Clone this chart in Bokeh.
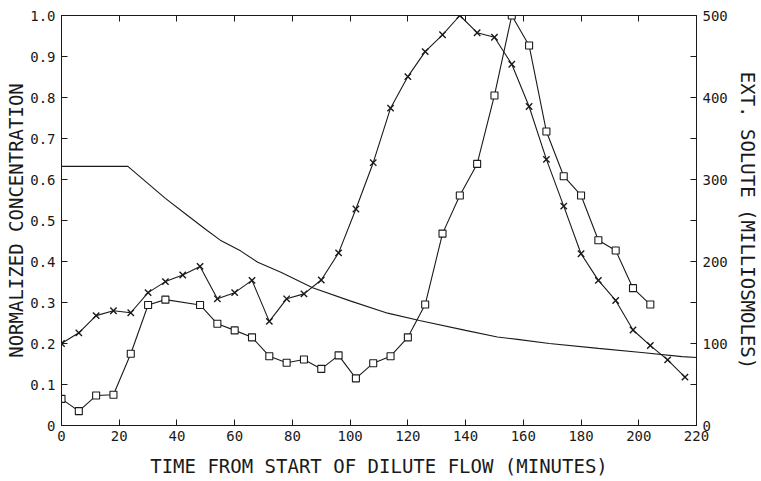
from bokeh.plotting import figure
from bokeh.models import Range1d, LinearAxis, FixedTicker, PrintfTickFormatter
from bokeh.embed import file_html
from bokeh.resources import INLINE

# Crosses series (normalized concentration)
cross_t = [0, 6, 12, 18, 24, 30, 36, 42, 48, 54, 60, 66, 72, 78, 84, 90, 96, 102, 108,
           114, 120, 126, 132, 138, 144, 150, 156, 162, 168, 174, 180, 186, 192, 198, 204, 210, 216]
cross_c = [0.200, 0.226, 0.268, 0.280, 0.275, 0.324, 0.351, 0.367, 0.388, 0.309, 0.324, 0.354,
           0.254, 0.309, 0.321, 0.355, 0.421, 0.528, 0.641, 0.774, 0.851, 0.912, 0.953, 1.000,
           0.958, 0.947, 0.881, 0.778, 0.649, 0.535, 0.419, 0.354, 0.305, 0.233, 0.195, 0.160, 0.118]

# Squares series (normalized concentration)
square_t = [0, 6, 12, 18, 24, 30, 36, 48, 54, 60, 66, 72, 78, 84, 90, 96, 102, 108, 114, 120,
            126, 132, 138, 144, 150, 156, 162, 168, 174, 180, 186, 192, 198, 204]
square_c = [0.065, 0.035, 0.073, 0.075, 0.175, 0.294, 0.307, 0.294, 0.248, 0.232, 0.215, 0.169,
            0.153, 0.161, 0.138, 0.171, 0.115, 0.152, 0.169, 0.215, 0.295, 0.468, 0.561, 0.638,
            0.805, 1.000, 0.927, 0.717, 0.608, 0.561, 0.452, 0.427, 0.335, 0.295]

# External solute curve (milliosmoles, right axis)
solute_t = [0, 23, 30, 36, 43, 50, 55, 62, 68, 76, 87, 100, 113, 124, 140, 151, 158, 169, 186, 201, 215, 220]
solute_m = [316, 316, 295, 277, 258, 239, 226, 213, 199, 187, 168, 152, 137, 128, 116, 108, 105, 100, 94, 89, 84, 83]

# Tick labels
x_ticks = [0, 20, 40, 60, 80, 100, 120, 140, 160, 180, 200, 220]
left_ticks = [0, 0.1, 0.2, 0.3, 0.4, 0.5, 0.6, 0.7, 0.8, 0.9, 1.0]
right_ticks = [0, 100, 200, 300, 400, 500]
right_minor = [50, 150, 250, 350, 450]

FONT = "DejaVu Sans Mono"
INK = "#1a1a1a"

p = figure(width=761, height=481, x_range=Range1d(0, 220), y_range=Range1d(0, 1.0),
           output_backend="svg", toolbar_location=None,
           min_border_left=61, min_border_right=62, min_border_top=15, min_border_bottom=56,
           x_axis_location=None, y_axis_location=None)
p.extra_y_ranges = {"osm": Range1d(0, 500)}
p.grid.visible = False
p.outline_line_color = INK
p.background_fill_color = "white"
p.border_fill_color = "white"


def style(ax, label_size="14px"):
    ax.axis_line_color = INK
    ax.major_tick_line_color = INK
    ax.minor_tick_line_color = INK
    ax.major_tick_in = 6
    ax.major_tick_out = 0
    ax.minor_tick_in = 6
    ax.minor_tick_out = 0
    ax.major_label_text_font = FONT
    ax.major_label_text_font_size = label_size
    ax.major_label_text_color = INK
    ax.axis_label_text_font = FONT
    ax.axis_label_text_font_size = "19px"
    ax.axis_label_text_font_style = "normal"
    ax.axis_label_text_color = INK


bottom = LinearAxis(ticker=FixedTicker(ticks=x_ticks),
                    axis_label="TIME FROM START OF DILUTE FLOW (MINUTES)")
style(bottom)
bottom.major_label_standoff = 5
bottom.axis_label_standoff = 11
p.add_layout(bottom, "below")

top = LinearAxis(ticker=FixedTicker(ticks=x_ticks))
style(top, label_size="1px")
top.major_label_text_color = None
top.major_label_standoff = 0
p.add_layout(top, "above")

left = LinearAxis(ticker=FixedTicker(ticks=left_ticks),
                  formatter=PrintfTickFormatter(format="%.1f"),
                  axis_label="NORMALIZED CONCENTRATION")
style(left)
left.major_label_overrides = {0: "0"}
left.major_label_standoff = 6
left.axis_label_standoff = 0
p.add_layout(left, "left")

right = LinearAxis(y_range_name="osm",
                   ticker=FixedTicker(ticks=right_ticks, minor_ticks=right_minor),
                   axis_label="EXT. SOLUTE (MILLIOSMOLES)")
style(right)
right.major_label_standoff = 6
right.axis_label_standoff = 6
p.add_layout(right, "right")

# external solute curve
p.line(solute_t, solute_m, y_range_name="osm", line_color=INK, line_width=1.1)

# crosses
p.line(cross_t, cross_c, line_color=INK, line_width=1.1)
p.scatter(cross_t, cross_c, marker="x", size=9, line_color=INK, line_width=1.4)

# squares
p.line(square_t, square_c, line_color=INK, line_width=1.1)
p.scatter(square_t, square_c, marker="square", size=7, line_color=INK,
          fill_color="white", line_width=1.1)

open("out.html", "w").write(file_html(p, INLINE))
